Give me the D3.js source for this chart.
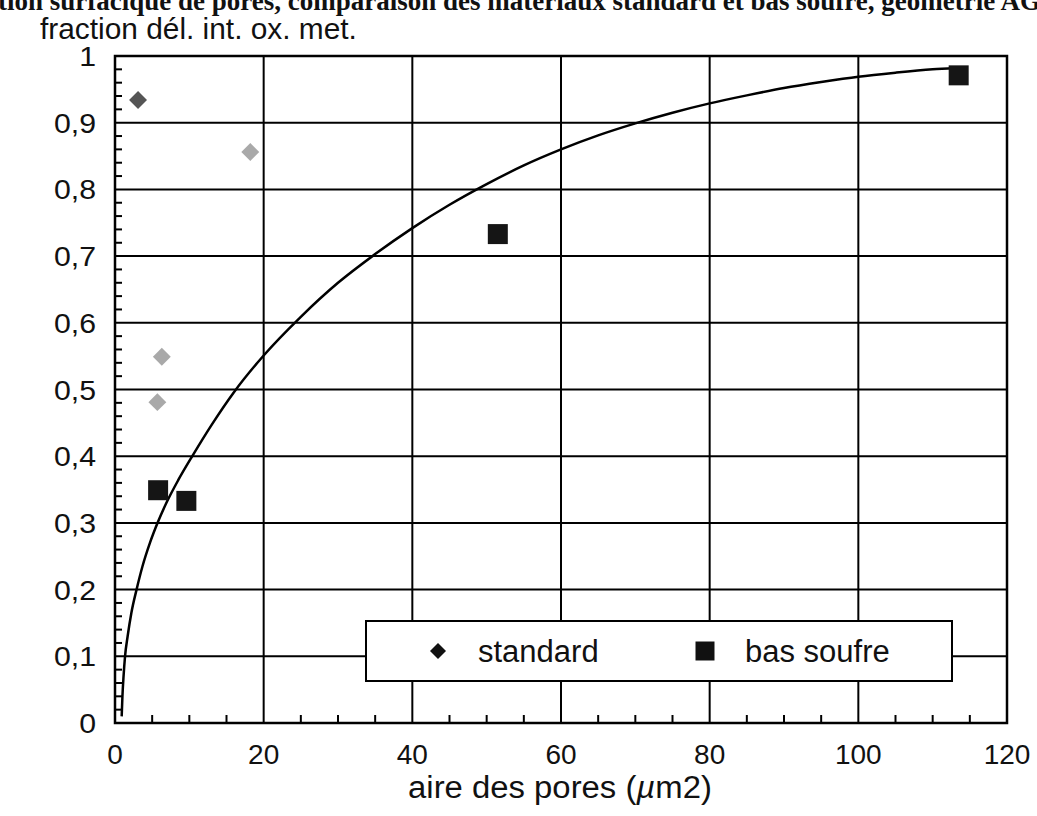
<!DOCTYPE html>
<html><head><meta charset="utf-8">
<script src="https://cdn.jsdelivr.net/npm/d3@7"></script>
<style>body{margin:0;background:#fff}svg{display:block}</style>
</head><body>
<svg id="c" width="1037" height="816"></svg>
<script>
const titleText = "Fraction surfacique de pores, comparaison des matériaux standard et bas soufre, géométrie AG20";
const yAxisTitle = "fraction dél. int. ox. met.";
const xAxisTitlePre = "aire des pores (";
const xAxisTitleMu = "µ";
const xAxisTitlePost = "m2)";
const seriesNames = ["standard", "bas soufre"];
const standardX = [3.1, 18.2, 6.3, 5.7];
const standardY = [0.934, 0.856, 0.549, 0.481];
const basSoufreX = [5.8, 9.6, 51.5, 113.5];
const basSoufreY = [0.349, 0.333, 0.733, 0.971];
const fitX = [0.9, 1.0, 1.15, 1.35, 1.7, 2.2, 2.9, 3.7, 4.7, 5.8, 7.0, 8.5, 10.5, 13, 16, 20, 25, 30, 35, 40, 45, 50, 55, 60, 65, 70, 75, 80, 85, 90, 95, 100, 105, 110, 113];
const fitY = [0.01, 0.04, 0.07, 0.1, 0.13, 0.165, 0.2, 0.235, 0.27, 0.302, 0.332, 0.364, 0.402, 0.447, 0.496, 0.551, 0.609, 0.66, 0.703, 0.742, 0.777, 0.808, 0.836, 0.860, 0.881, 0.899, 0.915, 0.929, 0.941, 0.952, 0.961, 0.969, 0.975, 0.980, 0.982];
const xTickValues = [0, 20, 40, 60, 80, 100, 120];
const yTickValues = [0, 0.1, 0.2, 0.3, 0.4, 0.5, 0.6, 0.7, 0.8, 0.9, 1];
const yTickLabels = ["0", "0,1", "0,2", "0,3", "0,4", "0,5", "0,6", "0,7", "0,8", "0,9", "1"];

const svg = d3.select("#c");
const x = d3.scaleLinear().domain([0, 120]).range([115, 1007]);
const y = d3.scaleLinear().domain([0, 1]).range([723, 56]);
const sans = "Liberation Sans, Arial, Helvetica, sans-serif";

// title (clipped at top)
const titleFont = 27;
const t = svg.append("text").attr("y", 10).attr("font-family", "Liberation Serif, Times New Roman, serif")
  .attr("font-weight", "bold").attr("font-size", titleFont).attr("fill", "#111").text(titleText);
const tmp = svg.append("text").attr("font-family", "Liberation Serif, Times New Roman, serif").attr("font-weight", "bold").attr("font-size", titleFont).text("Frac");
const off = tmp.node().getComputedTextLength(); tmp.remove();
t.attr("x", -off - 2);

// grid
const g = svg.append("g");
g.selectAll(".gx").data(xTickValues.slice(1, -1)).join("line")
  .attr("x1", d => x(d)).attr("x2", d => x(d)).attr("y1", y(1)).attr("y2", y(0))
  .attr("stroke", "#000").attr("stroke-width", 2);
g.selectAll(".gy").data(yTickValues.slice(1, -1)).join("line")
  .attr("y1", d => y(d)).attr("y2", d => y(d)).attr("x1", x(0)).attr("x2", x(120))
  .attr("stroke", "#000").attr("stroke-width", 2);

// minor ticks
const xMinor = d3.range(5, 120, 5).filter(v => v % 20 !== 0);
g.selectAll(".mx").data(xMinor).join("line")
  .attr("x1", d => x(d)).attr("x2", d => x(d)).attr("y1", y(0)).attr("y2", y(0) - 8)
  .attr("stroke", "#000").attr("stroke-width", 2);
const yMinor = d3.range(1, 50).map(i => i * 0.02).filter(v => Math.abs(v * 10 - Math.round(v * 10)) > 1e-6);
g.selectAll(".my").data(yMinor).join("line")
  .attr("y1", d => y(d)).attr("y2", d => y(d)).attr("x1", x(0)).attr("x2", x(0) + 7)
  .attr("stroke", "#000").attr("stroke-width", 2);

// frame
svg.append("rect").attr("x", x(0)).attr("y", y(1)).attr("width", x(120) - x(0)).attr("height", y(0) - y(1))
  .attr("fill", "none").attr("stroke", "#000").attr("stroke-width", 2.5);

// axes labels
svg.selectAll(".xl").data(xTickValues).join("text")
  .attr("x", d => x(d)).attr("y", 764).attr("text-anchor", "middle")
  .attr("font-family", sans).attr("font-size", 28).attr("fill", "#111").text(d => d);
svg.selectAll(".yl").data(yTickValues).join("text")
  .attr("transform", d => `translate(96,${y(d) + 10}) scale(1.08,1)`).attr("text-anchor", "end")
  .attr("font-family", sans).attr("font-size", 28).attr("fill", "#111").text((d, i) => yTickLabels[i]);

svg.append("text").attr("x", 40).attr("y", 39).attr("font-family", sans).attr("font-size", 29)
  .attr("transform", "translate(40,0) scale(1.03,1) translate(-40,0)")
  .attr("fill", "#111").text(yAxisTitle);
const xt = svg.append("text").attr("x", 560).attr("y", 798).attr("text-anchor", "middle")
  .attr("font-family", sans).attr("font-size", 31).attr("fill", "#111")
  .attr("transform", "translate(560,0) scale(1.06,1) translate(-560,0)");
xt.append("tspan").text(xAxisTitlePre);
xt.append("tspan").attr("font-style", "italic").text(xAxisTitleMu);
xt.append("tspan").text(xAxisTitlePost);

// fit curve
const pts = fitX.map((v, i) => [v, fitY[i]]);
svg.append("path").datum(pts)
  .attr("d", d3.line().x(d => x(d[0])).y(d => y(d[1])).curve(d3.curveMonotoneX))
  .attr("fill", "none").attr("stroke", "#000").attr("stroke-width", 2.5);

// points
const diamond = d3.symbol().type(d3.symbolSquare).size(160);
svg.selectAll(".sd").data(standardX.map((v, i) => [v, standardY[i]])).join("path")
  .attr("d", diamond)
  .attr("transform", d => `translate(${x(d[0])},${y(d[1])}) rotate(45)`)
  .attr("fill", (d, i) => i === 0 ? "#555" : "#a9a9a9");
const square = d3.symbol().type(d3.symbolSquare).size(400);
svg.selectAll(".sb").data(basSoufreX.map((v, i) => [v, basSoufreY[i]])).join("path")
  .attr("d", square)
  .attr("transform", d => `translate(${x(d[0])},${y(d[1])})`)
  .attr("fill", "#151515");

// legend
const lg = svg.append("g");
lg.append("rect").attr("x", 366).attr("y", 621).attr("width", 586).attr("height", 60)
  .attr("fill", "#fff").attr("stroke", "#000").attr("stroke-width", 2);
lg.append("path").attr("d", d3.symbol().type(d3.symbolSquare).size(128))
  .attr("transform", "translate(438,651) rotate(45)").attr("fill", "#111");
lg.append("text").attr("x", 478).attr("y", 662).attr("font-family", sans).attr("font-size", 31)
  .attr("fill", "#111").text(seriesNames[0]);
lg.append("path").attr("d", d3.symbol().type(d3.symbolSquare).size(361))
  .attr("transform", "translate(705,651)").attr("fill", "#111");
lg.append("text").attr("x", 745).attr("y", 662).attr("font-family", sans).attr("font-size", 31)
  .attr("fill", "#111").text(seriesNames[1]);
</script>
</body></html>
